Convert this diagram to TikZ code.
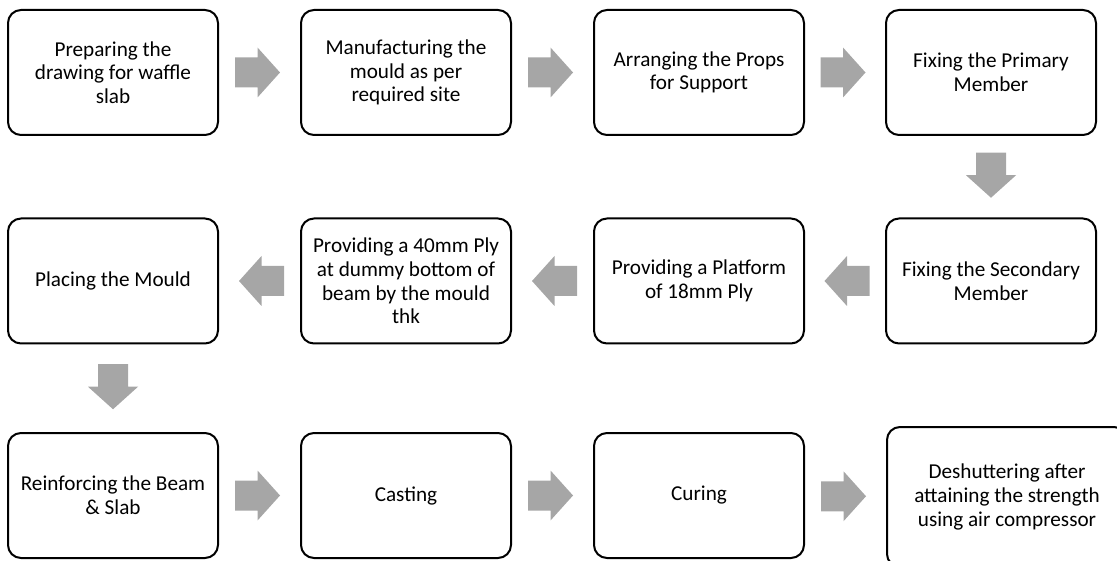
\documentclass[tikz,border=0pt]{standalone}
\usepackage{fontspec}
\setmainfont{Carlito}
\usetikzlibrary{calc}
\definecolor{arrgray}{HTML}{A6A6A6}
\tikzset{
  stepbox/.style={draw=black, line width=2pt, rounded corners=13pt, fill=white,
    minimum width=210pt, minimum height=125pt, inner sep=2pt, align=center,
    font={\fontsize{21.2}{23.6}\selectfont}},
  bigbox/.style={stepbox, minimum width=240pt, minimum height=140pt},
  blockarrow/.pic={\fill[arrgray] (-22.5,-15) -- (0,-15) -- (0,-25) -- (22.5,0) -- (0,25) -- (0,15) -- (-22.5,15) -- cycle;}
}
\begin{document}
\begin{tikzpicture}[x=1pt,y=-1pt]
\useasboundingbox (0,0) rectangle (1117,561);
% row 1
\node[stepbox] (n1) at (113,72.5) {Preparing the\\drawing for waffle\\slab};
\node[stepbox] (n2) at (406,72.5) {Manufacturing the\\mould as per\\required site};
\node[stepbox] (n3) at (699,72.5) {Arranging the Props\\for Support};
\node[stepbox] (n4) at (991,72.5) {Fixing the Primary\\Member};
% row 2
\node[stepbox] (n5) at (991,281) {Fixing the Secondary\\Member};
\node[stepbox] (n6) at (699,281) {Providing a Platform\\of 18mm Ply};
\node[stepbox] (n7) at (406,281) {Providing a 40mm Ply\\at dummy bottom of\\beam by the mould\\thk};
\node[stepbox] (n8) at (113,281) {Placing the Mould};
% row 3
\node[stepbox] (n9) at (113,495.5) {Reinforcing the Beam\\\& Slab};
\node[stepbox] (n10) at (406,495.5) {Casting};
\node[stepbox] (n11) at (699,495.5) {Curing};
\node[bigbox] (n12) at (1007,497) {Deshuttering after\\attaining the strength\\using air compressor};
% arrows
\path ($(n1.east)!0.5!(n2.west)+(-2,0)$) pic {blockarrow};
\path ($(n2.east)!0.5!(n3.west)+(-2,0)$) pic {blockarrow};
\path ($(n3.east)!0.5!(n4.west)+(-2,0)$) pic {blockarrow};
\path ($(n4.south)!0.5!(n5.north)+(0,-1.5)$) pic[rotate=-90] {blockarrow};
\path ($(n5.west)!0.5!(n6.east)+(2,0)$) pic[rotate=180] {blockarrow};
\path ($(n6.west)!0.5!(n7.east)+(2,0)$) pic[rotate=180] {blockarrow};
\path ($(n7.west)!0.5!(n8.east)+(2,0)$) pic[rotate=180] {blockarrow};
\path ($(n8.south)!0.5!(n9.north)+(0,-1.5)$) pic[rotate=-90] {blockarrow};
\path ($(n9.east)!0.5!(n10.west)+(-2,0)$) pic {blockarrow};
\path ($(n10.east)!0.5!(n11.west)+(-2,0)$) pic {blockarrow};
\path ($(n11.east)!0.5!(n12.west)+(-2,0)$) pic {blockarrow};
\end{tikzpicture}
\end{document}
